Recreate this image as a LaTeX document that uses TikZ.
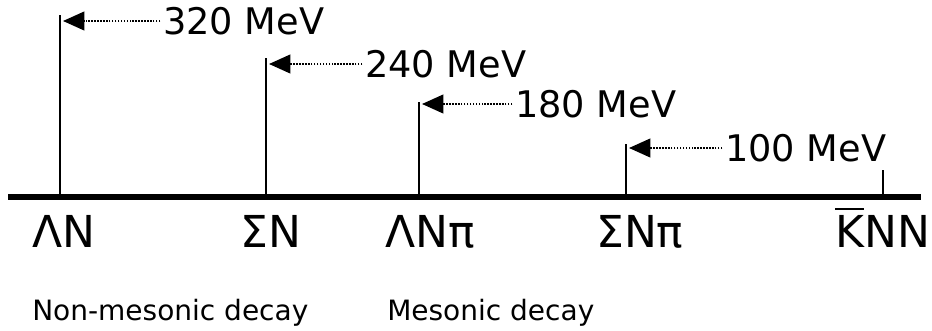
\documentclass[tikz,border=0pt]{standalone}
\usepackage{fontspec}
\setmainfont{DejaVu Sans}
\usetikzlibrary{arrows.meta}

\begin{document}
\begin{tikzpicture}[x=0.75pt,y=-0.75pt,
  tick/.style={line width=1.4pt},
  gap/.style={dash pattern=on 1.1pt off 1.1pt,line width=1.5pt,shorten <=2pt,-{Triangle[length=16pt,width=14pt]}},
  mev/.style={anchor=west,inner sep=0pt,font=\fontsize{27.5}{30}\selectfont},
  chan/.style={anchor=base west,inner sep=0pt,font=\fontsize{33}{36}\selectfont},
  kind/.style={anchor=base west,inner sep=0pt,font=\fontsize{21}{24}\selectfont}]
\useasboundingbox (0,0) rectangle (932,331);
\coordinate (L) at (8,197); \coordinate (R) at (921,197);
\draw[line width=3.8pt] (L)--(R);
% thresholds with their gaps
\foreach \n/\x/\top/\y/\t/\val in {ln/60/15/21/163/320,sn/266/58/64/365/240,lnp/419/102/104/515/180,snp/626/144/148/725/100}{
  \coordinate (\n0) at (\x,197); \coordinate (\n1) at (\x,\top); \coordinate (\n2) at (\x+3,\y);
  \draw[tick] (\n0)--(\n1);
  \node[mev] (\n3) at (\t,\y) {\val~MeV};
  \draw[gap] (\n3.west)--(\n2);
}
\coordinate (knn0) at (883,197); \coordinate (knn1) at (883,170);
\draw[tick] (knn0)--(knn1);
% channels
\node[chan] (lnL) at (32,248) {ΛN};
\node[chan] (snL) at (240,248) {ΣN};
\node[chan] (lnpL) at (385,248) {ΛNπ};
\node[chan] (snpL) at (596,248) {ΣNπ};
\node[chan] (knnL) at (835,248) {\makebox[0pt][l]{\rule[0.86em]{0.66em}{0.05em}}KNN};
\node[kind] (nmd) at (32,321) {Non-mesonic decay};
\node[kind] (md) at (387,321) {Mesonic decay};
\end{tikzpicture}
\end{document}
